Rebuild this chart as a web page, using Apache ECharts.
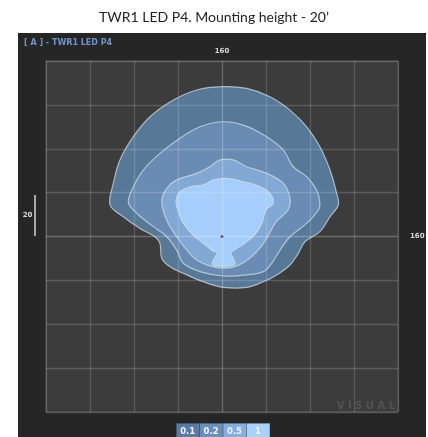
<!DOCTYPE html>
<html>
<head>
<meta charset="utf-8">
<script src="https://cdn.jsdelivr.net/npm/echarts@6/dist/echarts.min.js"></script>
<style>
  html, body { margin: 0; padding: 0; background: #ffffff; }
  #panel { position: absolute; left: 18px; top: 33px; width: 408px; height: 404px; background: #262626; }
  #chart { position: absolute; left: 0; top: 0; width: 428px; height: 437px; }
</style>
</head>
<body>
<div id="panel"></div>
<div id="chart"></div>
<script>
// Isoline levels (footcandles) and the fill used for each band
const levels = ['0.1', '0.2', '0.5', '1'];
const bandColors = ['#587898', '#6a8cb4', '#82a8d6', '#a6cefc'];
const legendColors = ['#5a7ca4', '#6b8fbb', '#86aee0', '#a9d1fd'];

// Area span in feet (8 cells of 20 ft)
const spanLabel = '160';
const cellLabel = '20';

// Isoline outlines, [x ft, y ft] relative to the luminaire
const iso01 = [
  [0.1, 68.3], [11.2, 67.5], [21.8, 63.7], [30.9, 57.6], [38.5, 50.0], [44.5, 40.9],
  [49.1, 30.3], [52.1, 19.7], [52.9, 14.4], [49.1, 9.0], [44.5, 2.2], [37.7, -2.4],
  [34.7, -7.7], [30.9, -13.0], [24.9, -17.5], [18.8, -20.6], [11.2, -23.2], [0.6, -23.2],
  [-8.5, -20.6], [-16.0, -17.5], [-23.6, -13.8], [-27.4, -9.9], [-28.2, -3.1], [-30.5, -0.1],
  [-37.3, 3.7], [-44.9, 9.0], [-50.9, 14.4], [-49.4, 24.2], [-46.4, 34.9], [-40.3, 45.5],
  [-32.7, 54.6], [-22.1, 62.2], [-11.5, 66.8]
];
const iso02 = [
  [0.1, 52.3], [9.7, 50.8], [20.3, 45.5], [27.9, 39.4], [32.4, 31.8], [38.5, 27.3],
  [43.0, 21.2], [44.5, 15.3], [43.8, 12.1], [38.5, 6.0], [30.9, -0.1], [26.4, -6.2],
  [22.6, -12.2], [18.8, -16.0], [11.2, -17.5], [0.6, -18.0], [-10.0, -16.0], [-17.6, -12.2],
  [-20.6, -6.2], [-25.1, -0.1], [-31.2, 4.5], [-38.8, 10.6], [-42.5, 15.3], [-41.0, 21.2],
  [-35.8, 30.3], [-28.2, 37.9], [-19.1, 44.8], [-10.0, 50.0]
];
const iso05 = [
  [-0.9, 34.9], [5.1, 34.9], [11.2, 31.8], [20.3, 28.8], [27.9, 24.2], [30.9, 17.5],
  [30.0, 12.1], [24.5, 6.6], [20.9, 0.2], [17.3, -5.2], [12.7, -9.8], [6.7, -13.4],
  [0.6, -14.4], [-5.5, -13.4], [-11.5, -10.7], [-16.0, -6.2], [-20.6, -0.1], [-24.5, 6.2],
  [-26.8, 12.1], [-27.3, 17.5], [-25.0, 22.1], [-20.6, 25.8], [-11.5, 28.8], [-5.5, 31.8]
];
const iso1 = [
  [-4.0, 25.8], [2.1, 26.5], [9.7, 25.0], [17.3, 22.7], [21.8, 19.7], [23.3, 15.1],
  [20.0, 12.1], [18.2, 6.2], [15.5, 1.6], [10.5, -3.0], [5.5, -6.2], [4.1, -7.5],
  [5.9, -12.5], [2.7, -13.4], [-2.3, -13.4], [-4.5, -12.5], [-2.3, -7.5], [-4.1, -6.6],
  [-8.6, -3.0], [-13.2, 0.7], [-17.7, 6.2], [-20.0, 12.1], [-20.9, 16.2], [-19.1, 20.4],
  [-14.5, 22.7], [-8.5, 23.5]
];
const isolines = [iso01, iso02, iso05, iso1];

// Luminaire position
const luminaire = [[0, 0]];

function isolineSeries(points, fill, z) {
  return {
    type: 'custom',
    coordinateSystem: 'cartesian2d',
    silent: true,
    z: z,
    data: points,
    renderItem: function (params, api) {
      if (params.dataIndex !== 0) return null;
      const pts = points.map(function (p) { return api.coord(p); });
      return {
        type: 'polygon',
        shape: { points: pts, smooth: 0.35 },
        style: { fill: fill, stroke: 'rgba(212,222,232,0.72)', lineWidth: 1.2 }
      };
    }
  };
}

const chart = echarts.init(document.getElementById('chart'), null, { renderer: 'canvas' });

const splitColors = [];
for (let i = 0; i <= 8; i++) splitColors.push(i === 4 ? 'rgba(255,255,255,0.24)' : 'rgba(255,255,255,0.16)');

const legendGraphics = [];
levels.forEach(function (lv, i) {
  const x = 176 + i * 23.4;
  legendGraphics.push({
    type: 'rect', left: x, top: 423, z: 20,
    shape: { width: 23.4, height: 16 },
    style: { fill: legendColors[i], stroke: 'rgba(38,38,38,0.35)', lineWidth: 0.6 }
  });
  legendGraphics.push({
    type: 'text', x: x + 11.7, y: 432, z: 21,
    style: { text: lv, fill: '#eef3fb', font: 'bold 8.5px "DejaVu Sans", sans-serif', textAlign: 'center', textVerticalAlign: 'middle' }
  });
});

chart.setOption({
  backgroundColor: 'transparent',
  animation: false,
  title: {
    text: 'TWR1 LED P4. Mounting height - 20\u2019',
    left: 'center', top: 5,
    textStyle: { fontFamily: 'Lato', fontWeight: 'normal', fontSize: 14, color: '#222222' }
  },
  grid: {
    left: 46, top: 61, width: 352, height: 351,
    show: true, backgroundColor: '#3c3c3c', borderColor: '#555555', borderWidth: 1
  },
  xAxis: {
    type: 'value', position: 'top', min: -80, max: 80, interval: 20, z: 6,
    axisLine: { show: false }, axisTick: { show: false }, axisLabel: { show: false },
    splitLine: { show: true, lineStyle: { color: splitColors, width: 1.3 } },
    name: spanLabel, nameLocation: 'middle', nameGap: 6,
    nameTextStyle: { color: '#d8d8d8', fontSize: 7, fontWeight: 'bold', fontFamily: 'DejaVu Sans' }
  },
  yAxis: {
    type: 'value', position: 'right', min: -80, max: 80, interval: 20, z: 6,
    axisLine: { show: false }, axisTick: { show: false }, axisLabel: { show: false },
    splitLine: { show: true, lineStyle: { color: splitColors, width: 1.3 } },
    name: spanLabel, nameLocation: 'middle', nameRotate: 0, nameGap: 12,
    nameTextStyle: { color: '#d8d8d8', fontSize: 7, fontWeight: 'bold', fontFamily: 'DejaVu Sans' }
  },
  series: isolines.map(function (pts, i) { return isolineSeries(pts, bandColors[i], 1 + i); }).concat([{
    type: 'scatter', data: luminaire, symbolSize: 3, z: 8, silent: true,
    itemStyle: { color: '#4a4a4a' }
  }]),
  graphic: [
    {
      type: 'text', x: 24, y: 43, z: 20,
      style: { text: '[ A ] - TWR1 LED P4', fill: '#6f95c6', font: 'bold 8px "DejaVu Sans", sans-serif', textVerticalAlign: 'middle' }
    },
    {
      type: 'line', z: 20,
      shape: { x1: 35, y1: 195, x2: 35, y2: 236 },
      style: { stroke: '#a8a8a8', lineWidth: 2 }
    },
    {
      type: 'text', x: 27.5, y: 215.5, z: 20,
      style: { text: cellLabel, fill: '#d8d8d8', font: 'bold 7px "DejaVu Sans", sans-serif', textAlign: 'center', textVerticalAlign: 'middle' }
    },
    {
      type: 'text', x: 395, y: 406.5, z: 20,
      style: { text: 'V I S U A L', fill: 'rgba(255,255,255,0.12)', font: 'bold 10px "DejaVu Sans", sans-serif', textAlign: 'right', textVerticalAlign: 'middle' }
    }
  ].concat(legendGraphics)
});
</script>
</body>
</html>
